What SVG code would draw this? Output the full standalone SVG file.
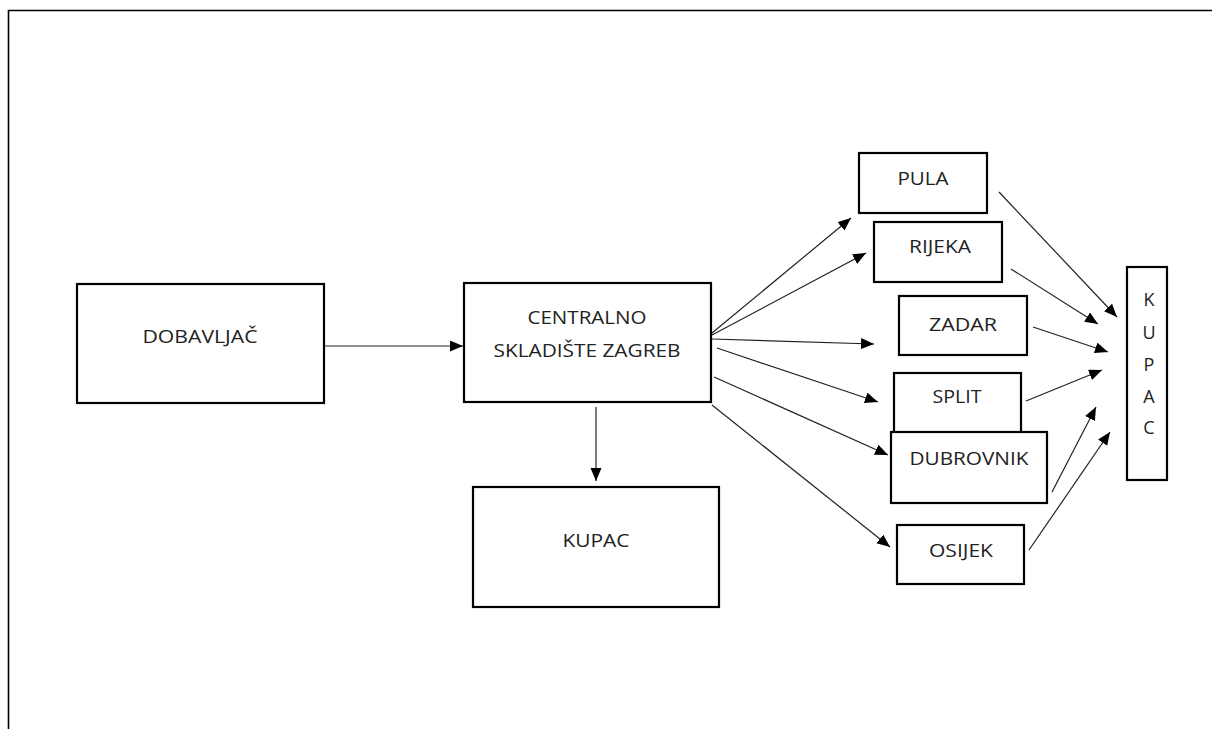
<svg xmlns="http://www.w3.org/2000/svg" width="1212" height="729" viewBox="0 0 1212 729">
<defs>
<marker id="ah" markerUnits="userSpaceOnUse" markerWidth="15" markerHeight="13" refX="13" refY="5.5" orient="auto">
<path d="M0,0 L13,5.5 L0,11 Z" fill="#000"/>
</marker>
<style>
.box{fill:#fff;stroke:#000;stroke-width:2.2}
.t{font-family:"Open Sans","Liberation Sans",sans-serif;font-size:18px;fill:#222;text-anchor:middle}
.c line{stroke:#222;stroke-width:1.2;marker-end:url(#ah)}
</style>
</defs>
<rect width="1212" height="729" fill="#fff"/>
<path d="M8.5,729 L8.5,10.5 L1212,10.5" fill="none" stroke="#000" stroke-width="1.6"/>
<g class="c" id="connectors">
<line x1="325" y1="346" x2="463" y2="346"/>
<line x1="596" y1="407" x2="596" y2="481"/>
<line x1="712" y1="333" x2="851" y2="218"/>
<line x1="712" y1="335" x2="866" y2="253"/>
<line x1="712" y1="339" x2="874" y2="344"/>
<line x1="717" y1="348" x2="878" y2="402"/>
<line x1="714" y1="377" x2="888" y2="455"/>
<line x1="712" y1="405" x2="890" y2="547"/>
<line x1="999" y1="192" x2="1117" y2="317"/>
<line x1="1011" y1="269" x2="1098" y2="324"/>
<line x1="1033" y1="327" x2="1108" y2="352"/>
<line x1="1026" y1="401" x2="1102" y2="370"/>
<line x1="1052" y1="492" x2="1096" y2="407"/>
<line x1="1029" y1="550" x2="1110" y2="432"/>
</g>
<g id="dobavljac"><rect class="box" x="77" y="284" width="247" height="119"/><text class="t" x="200" y="343" textLength="115" lengthAdjust="spacingAndGlyphs">DOBAVLJAČ</text></g>
<g id="centralno"><rect class="box" x="464" y="283" width="247" height="119"/><text class="t" x="587" y="324" textLength="119" lengthAdjust="spacingAndGlyphs">CENTRALNO</text><text class="t" x="587" y="357" textLength="187" lengthAdjust="spacingAndGlyphs">SKLADIŠTE ZAGREB</text></g>
<g id="kupac1"><rect class="box" x="473" y="487" width="246" height="120"/><text class="t" x="596" y="547" textLength="67" lengthAdjust="spacingAndGlyphs">KUPAC</text></g>
<g id="pula"><rect class="box" x="859" y="153" width="128" height="60"/><text class="t" x="923" y="185" textLength="51" lengthAdjust="spacingAndGlyphs">PULA</text></g>
<g id="rijeka"><rect class="box" x="874" y="222" width="128" height="60"/><text class="t" x="940" y="253" textLength="62" lengthAdjust="spacingAndGlyphs">RIJEKA</text></g>
<g id="zadar"><rect class="box" x="899" y="296" width="128" height="59"/><text class="t" x="963" y="331" textLength="68" lengthAdjust="spacingAndGlyphs">ZADAR</text></g>
<g id="split"><rect class="box" x="894" y="373" width="127" height="70"/><text class="t" x="957" y="403" textLength="49" lengthAdjust="spacingAndGlyphs">SPLIT</text></g>
<g id="dubrovnik"><rect class="box" x="891" y="432" width="156" height="71"/><text class="t" x="969" y="465" textLength="119" lengthAdjust="spacingAndGlyphs">DUBROVNIK</text></g>
<g id="osijek"><rect class="box" x="897" y="525" width="127" height="59"/><text class="t" x="961" y="557" textLength="64" lengthAdjust="spacingAndGlyphs">OSIJEK</text></g>
<g id="kupac2"><rect class="box" x="1127" y="267" width="40" height="213"/>
<text class="t" x="1149" y="306">K</text><text class="t" x="1149" y="339">U</text><text class="t" x="1149" y="371">P</text><text class="t" x="1149" y="403">A</text><text class="t" x="1149" y="434">C</text></g>
</svg>
